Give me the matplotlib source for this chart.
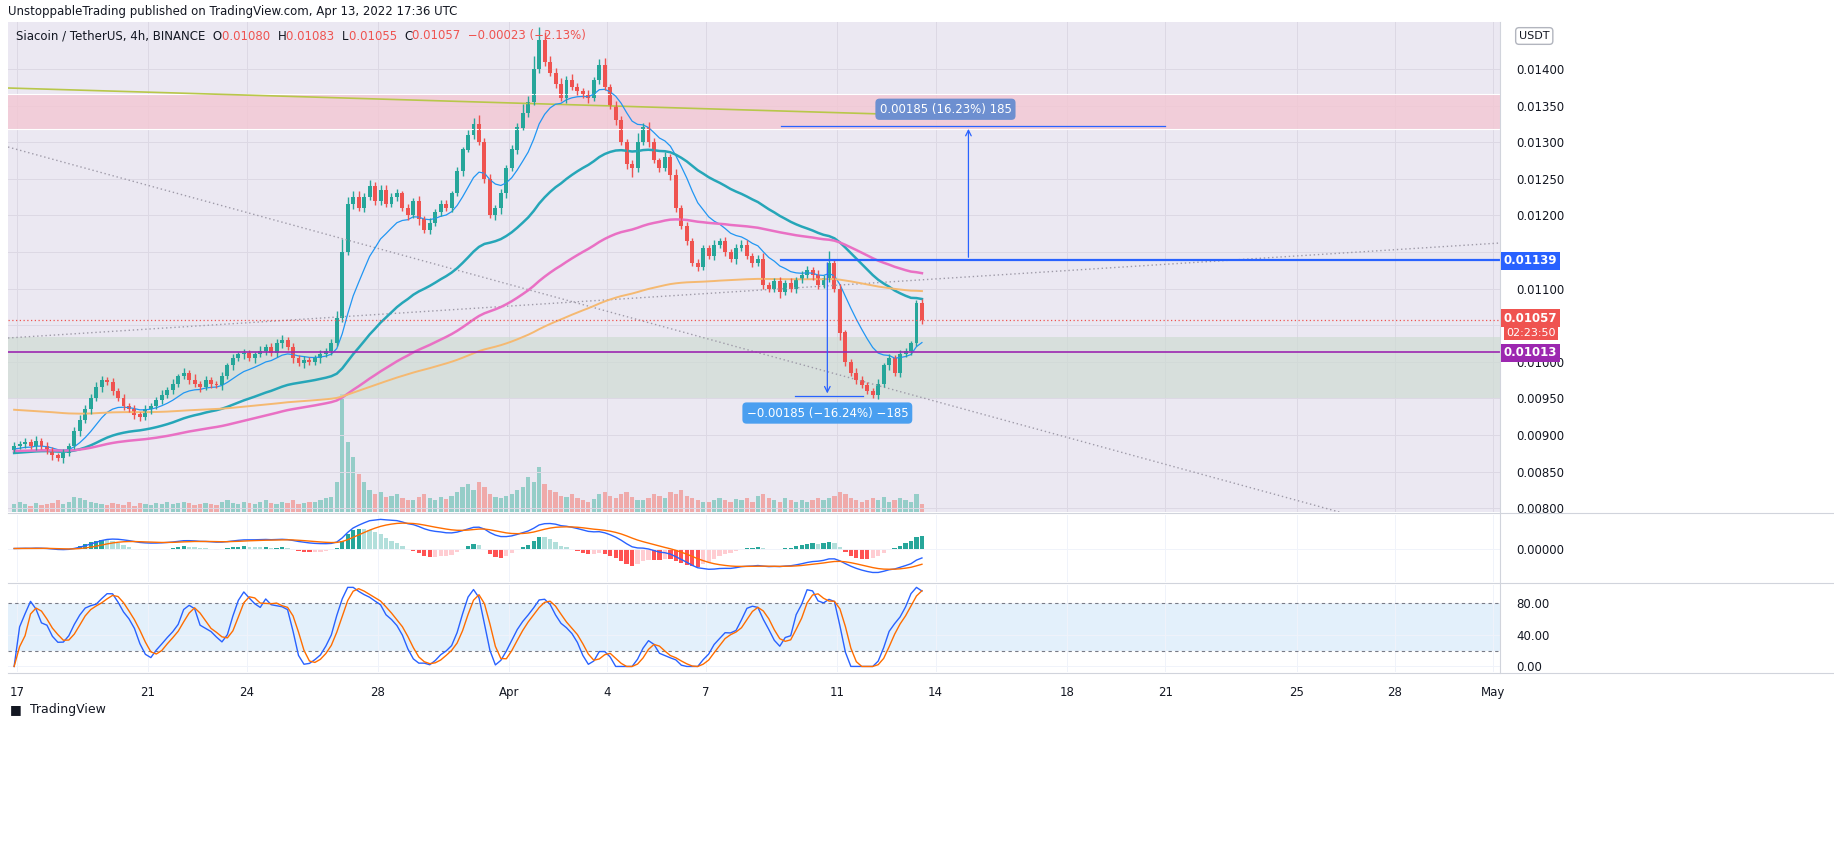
import numpy as np
import pandas as pd
import matplotlib
matplotlib.use("Agg")
import matplotlib.pyplot as plt
from matplotlib.text import Annotation

# ---- data (4h candles, Mar 16 20:00 -> Apr 13 12:00) ----
closes = [0.00885,
    0.00888, 0.00890, 0.00885, 0.00892, 0.00885, 0.00880,
    0.00872, 0.00868, 0.00875, 0.00885, 0.00905, 0.00920,
    0.00935, 0.00950, 0.00965, 0.00975, 0.00972, 0.00960,
    0.00950, 0.00940, 0.00935, 0.00928, 0.00925, 0.00935,
    0.00940, 0.00948, 0.00955, 0.00962, 0.00970, 0.00980,
    0.00985, 0.00975, 0.00970, 0.00965, 0.00975, 0.00970,
    0.00968, 0.00980, 0.00995, 0.01005, 0.01010, 0.01012,
    0.01005, 0.01010, 0.01015, 0.01020, 0.01012, 0.01025,
    0.01030, 0.01020, 0.01005, 0.00998, 0.01002, 0.01000,
    0.01005, 0.01010, 0.01015, 0.01025, 0.01060, 0.01150,
    0.01215, 0.01225, 0.01210, 0.01225, 0.01240, 0.01220,
    0.01235, 0.01215, 0.01225, 0.01230, 0.01210, 0.01200,
    0.01220, 0.01195, 0.01180, 0.01190, 0.01205, 0.01215,
    0.01210, 0.01230, 0.01260, 0.01290, 0.01310, 0.01325,
    0.01300, 0.01250, 0.01200, 0.01210, 0.01230, 0.01265,
    0.01290, 0.01320, 0.01340, 0.01355, 0.01400, 0.01440,
    0.01410, 0.01395, 0.01380, 0.01360, 0.01385, 0.01375,
    0.01370, 0.01365, 0.01360, 0.01385, 0.01405, 0.01375,
    0.01350, 0.01330, 0.01300, 0.01270, 0.01265, 0.01300,
    0.01320, 0.01300, 0.01275, 0.01265, 0.01280, 0.01255,
    0.01210, 0.01185, 0.01165, 0.01135, 0.01130, 0.01155,
    0.01145, 0.01160, 0.01165, 0.01150, 0.01140, 0.01155,
    0.01160, 0.01145, 0.01135, 0.01140, 0.01105, 0.01100,
    0.01110, 0.01095, 0.01108, 0.01100, 0.01112, 0.01118,
    0.01125, 0.01118, 0.01105, 0.01115, 0.01135, 0.01100,
    0.01040, 0.01000, 0.00985, 0.00975, 0.00968, 0.00960,
    0.00955, 0.00970, 0.00995, 0.01005, 0.00985, 0.01010,
    0.01015, 0.01025, 0.01080, 0.01057]
first_open = 0.00880
# wick lengths per candle, in units of 0.00002 (one digit per candle)
wick_up = ("3" "232323" "223234" "334323" "232323" "223232" "324232"
           "232323" "223233" "323232" "232359" "544343" "333323"
           "232323" "323234" "633232" "336499" "543434" "323245"
           "233236" "343232" "423232" "232323" "332342" "232323"
           "324283" "322332" "232323" "2223")
wick_dn = ("2" "232323" "323223" "232323" "232332" "323232" "232323"
           "232323" "232323" "323232" "232323" "232323" "322323"
           "242323" "232323" "232343" "232323" "323232" "323232"
           "232363" "232323" "323232" "232323" "223232" "242232"
           "233232" "532322" "232323" "2323")
volumes = [8,
    10, 8, 6, 9, 7, 8,  9, 12, 8, 10, 15, 14,  12, 10, 9, 8, 7, 9,
    8, 7, 10, 6, 9, 8,  7, 9, 8, 10, 8, 9,  10, 9, 7, 8, 9, 8,
    7, 10, 12, 9, 8, 10,  9, 8, 10, 12, 9, 8,  10, 9, 12, 8, 9, 10,
    10, 12, 14, 15, 30, 117,  70, 55, 38, 30, 22, 18,  20, 15, 16, 18, 14, 12,
    12, 15, 18, 14, 12, 15,  13, 16, 20, 25, 28, 22,  30, 25, 18, 15, 14, 16,
    18, 22, 25, 35, 30, 45,  28, 22, 20, 16, 15, 18,  14, 12, 10, 13, 18, 20,
    16, 14, 18, 20, 15, 12,  12, 14, 18, 16, 14, 20,  18, 22, 16, 14, 12, 10,
    10, 12, 14, 12, 10, 13,  12, 14, 10, 16, 18, 14,  12, 10, 14, 12, 10, 12,
    10, 12, 14, 12, 14, 16,  20, 18, 14, 12, 10, 12,  14, 12, 15, 10, 12, 14,
    12, 10, 18, 8]
# EMA spans and their seed values (history before the first candle)
ema_spans = [12, 45, 100, 200]
ema_seeds = [0.00880, 0.00875, 0.00878, 0.00935]
ema_colors = ["#2196f3", "#26a6b8", "#e970c4", "#f5b971"]
ema_widths = [0.9, 1.8, 1.8, 1.4]

price_ticks = [0.0080, 0.0085, 0.0090, 0.0095, 0.0100, 0.0105, 0.0110,
               0.0115, 0.0120, 0.0125, 0.0130, 0.0135, 0.0140]
date_pos = [0, 4, 7, 11, 15, 18, 21, 25, 28, 32, 35, 39, 42, 45]
date_lbl = ["17", "21", "24", "28", "Apr", "4", "7", "11", "14", "18", "21", "25", "28", "May"]

# ---- derived ----
c = np.array(closes)
o = np.concatenate([[first_open], c[:-1]])
hi = np.maximum(o, c) + np.array([int(d) for d in wick_up]) * 0.00002
lo = np.minimum(o, c) - np.array([int(d) for d in wick_dn]) * 0.00002
n = len(c)
t = (np.arange(n) - 1) / 6 + 1 / 12   # days since Mar 17 00:00
up = c >= o
GREEN, RED = "#26a69a", "#ef5350"

W, H = 1834, 848
fig = plt.figure(figsize=(W / 100, H / 100), dpi=100)
fig.patch.set_facecolor("white")

def pane(x0, y0, x1, y1):
    return fig.add_axes([x0 / W, 1 - y1 / H, (x1 - x0) / W, (y1 - y0) / H])

XL = (-0.27, 45.2)
main = pane(8, 22, 1500, 512)
main.set_xlim(*XL)
p0 = lambda y: 0.01400 - (y - 69) / 36.6 * 0.0005
main.set_ylim(p0(512), p0(22))

# volume on a twin axis (drawn underneath, carries the pane background)
vax = main.twinx()
vax.set_ylim(0, 117 / 0.24)
vcol = [("#8ccbc4" if u else "#f0a4a3") for u in up]
vax.bar(t, volumes, width=0.13, color=vcol, alpha=0.9)
vax.set_yticks([])
for s in vax.spines.values():
    s.set_visible(False)
main.set_zorder(vax.get_zorder() + 1)
main.patch.set_visible(False)
vax.patch.set_visible(True)
vax.patch.set_facecolor("#ebe8f2")

# zones
main.axhspan(0.01318, 0.01366, color="#f3c7d3", alpha=0.8, lw=0)
main.axhspan(0.00951, 0.01034, color="#cfdcd3", alpha=0.7, lw=0)
main.axhline(0.01366, color="white", lw=0.8)
main.axhline(0.01318, color="white", lw=0.8)

# trend lines
main.plot([-0.27, 40.3], [p0(147), p0(512)], ls=(0, (1, 2)), color="#9e9aa8", lw=1)
main.plot([-0.27, 45.2], [p0(338), p0(243)], ls=(0, (1, 2)), color="#9e9aa8", lw=1)
main.plot([-0.27, 27.4], [p0(88), p0(115)], color="#b8c74a", lw=1.2)

# EMAs
for span, seed, col, lw in zip(ema_spans, ema_seeds, ema_colors, ema_widths):
    ser = pd.Series(np.concatenate([[seed], c])).ewm(span=span, adjust=False).mean().values[1:]
    main.plot(t, ser, color=col, lw=lw)

# candles
main.vlines(t, lo, hi, colors=np.where(up, GREEN, RED), lw=1)
main.bar(t, np.abs(c - o) + 1e-6, bottom=np.minimum(o, c), width=0.12,
         color=np.where(up, GREEN, RED))

# horizontal levels
main.axhline(0.01013, color="#9c27b0", lw=1.2)
main.axhline(closes[-1], color=RED, lw=0.9, ls=(0, (1, 2)))
main.plot([23.3, 45.2], [0.01139, 0.01139], color="#2962ff", lw=1.6)

# measure tools
main.plot([23.3, 35.0], [0.01322, 0.01322], color="#2962ff", lw=0.9)
main.annotate("", xy=(29.0, 0.01322), xytext=(29.0, 0.01139),
              arrowprops=dict(arrowstyle="->", color="#2962ff", lw=0.9))
main.text(28.3, 0.01345, "0.00185 (16.23%) 185", color="white", fontsize=8.5,
          ha="center", va="center",
          bbox=dict(boxstyle="round,pad=0.35", fc="#6d8fd0", ec="none"))
main.plot([23.7, 25.8], [0.00953, 0.00953], color="#2962ff", lw=0.9)
main.annotate("", xy=(24.7, 0.00953), xytext=(24.7, 0.01139),
              arrowprops=dict(arrowstyle="->", color="#2962ff", lw=0.9))
main.text(24.7, 0.00930, "\u22120.00185 (\u221216.24%) \u2212185", color="white", fontsize=8.5,
          ha="center", va="center",
          bbox=dict(boxstyle="round,pad=0.35", fc="#4a9ff0", ec="none"))

main.grid(color="#dcd8e4", lw=0.7)
main.set_axisbelow(True)
main.set_xticks(date_pos)
main.set_xticklabels([])
main.tick_params(length=0)
main.yaxis.tick_right()
main.set_yticks(price_ticks)
# labels at 0.0105 / 0.0115 sit behind the price boxes
main.set_yticklabels(["" if v in (0.0105, 0.0115) else f"{v:.5f}" for v in price_ticks],
                     fontsize=8.5, color="#131722")
main.tick_params(axis="y", pad=12)
for s in main.spines.values():
    s.set_visible(False)

# right price labels
def plabel(y, txt, col):
    fig.text(1504 / W, 1 - y / H, txt, color="white", fontsize=8.5, fontweight="bold",
             va="center", ha="left", bbox=dict(boxstyle="square,pad=0.25", fc=col, ec="none"))
plabel(261, "0.01139", "#2962ff")
plabel(318, "0.01057", RED)
fig.text(1506 / W, 1 - 333 / H, "02:23:50", color="white", fontsize=8, va="center",
         bbox=dict(boxstyle="square,pad=0.2", fc=RED, ec="none"))
plabel(353, "0.01013", "#9c27b0")
fig.text(1519 / W, 1 - 36 / H, "USDT", fontsize=8, color="#131722", va="center",
         bbox=dict(boxstyle="round,pad=0.3", fc="white", ec="#b2b5be"))

# MACD
macd_ax = pane(8, 515, 1500, 582)
e12 = pd.Series(c).ewm(span=12, adjust=False).mean()
e26 = pd.Series(c).ewm(span=26, adjust=False).mean()
macd = (e12 - e26).values
sig = pd.Series(macd).ewm(span=9, adjust=False).mean().values
hist = macd - sig
hcol = []
for i, h in enumerate(hist):
    rising = i > 0 and h > hist[i - 1]
    if h >= 0:
        hcol.append("#26a69a" if rising else "#b2dfdb")
    else:
        hcol.append("#ffcdd2" if rising else "#ff5252")
macd_ax.bar(t, hist * 2, width=0.13, color=hcol)
macd_ax.plot(t, macd, color="#2962ff", lw=1)
macd_ax.plot(t, sig, color="#ff6d00", lw=1)
m = np.abs(macd).max() * 1.15
macd_ax.set_ylim(-m, m)
macd_ax.set_xlim(*XL)
macd_ax.set_xticks(date_pos)
macd_ax.set_xticklabels([])
macd_ax.yaxis.tick_right()
macd_ax.set_yticks([0])
macd_ax.set_yticklabels(["0.00000"], fontsize=8.5, color="#131722")
macd_ax.tick_params(length=0, axis="both", pad=12)
macd_ax.grid(color="#f0f3fa", lw=0.7)
for s in macd_ax.spines.values():
    s.set_visible(False)

# Stochastic RSI
st_ax = pane(8, 585, 1500, 672)
diff = np.diff(c, prepend=c[0])
gain = pd.Series(np.clip(diff, 0, None)).ewm(alpha=1 / 14, adjust=False).mean()
loss = pd.Series(np.clip(-diff, 0, None)).ewm(alpha=1 / 14, adjust=False).mean()
rsi = 100 - 100 / (1 + gain / (loss + 1e-12))
rmin = rsi.rolling(14, min_periods=1).min()
rmax = rsi.rolling(14, min_periods=1).max()
stoch = 100 * (rsi - rmin) / (rmax - rmin + 1e-12)
k = stoch.rolling(3, min_periods=1).mean()
d = k.rolling(3, min_periods=1).mean()
st_ax.axhspan(20, 80, color="#e3f0fb", lw=0)
st_ax.axhline(80, color="#787b86", ls=(0, (3, 3)), lw=0.8)
st_ax.axhline(20, color="#787b86", ls=(0, (3, 3)), lw=0.8)
st_ax.plot(t, k, color="#2962ff", lw=1)
st_ax.plot(t, d, color="#ff6d00", lw=1)
st_ax.set_ylim(-7, 103)
st_ax.set_xlim(*XL)
st_ax.yaxis.tick_right()
st_ax.set_yticks([0, 40, 80])
st_ax.set_yticklabels(["0.00", "40.00", "80.00"], fontsize=8.5, color="#131722")
st_ax.set_xticks(date_pos)
st_ax.set_xticklabels(date_lbl, fontsize=8.5, color="#131722")
st_ax.tick_params(length=0, axis="both", pad=12)
st_ax.tick_params(axis="x", pad=10)
st_ax.grid(color="#f0f3fa", lw=0.7)
for s in st_ax.spines.values():
    s.set_visible(False)

# pane separators
for y in (513, 583, 673):
    fig.add_artist(plt.Line2D([8 / W, 1834 / W], [1 - y / H, 1 - y / H], color="#d1d4dc", lw=0.8))
fig.add_artist(plt.Line2D([1500 / W, 1500 / W], [1 - 673 / H, 1 - 22 / H], color="#d1d4dc", lw=0.8))

# header
fig.text(8 / W, 1 - 11 / H, "UnstoppableTrading published on TradingView.com, Apr 13, 2022 17:36 UTC",
         fontsize=8.5, color="#131722", va="center")
parts = [("Siacoin / TetherUS, 4h, BINANCE  O", "#131722"), ("0.01080  ", RED),
         ("H", "#131722"), ("0.01083  ", RED), ("L", "#131722"), ("0.01055  ", RED),
         ("C", "#131722"), ("0.01057  \u22120.00023 (\u22122.13%)", RED)]
anchor = fig.text(16 / W, 1 - 36 / H, parts[0][0], fontsize=8.5, color=parts[0][1], va="center")
for txt, col in parts[1:]:
    # each piece placed right after the previous one
    anchor = fig.add_artist(Annotation(txt, xy=(1, 0.5), xycoords=anchor, va="center",
                                       ha="left", fontsize=8.5, color=col))
fig.text(30 / W, 1 - 710 / H, "TradingView", fontsize=9, color="#131722", va="center")
fig.text(10 / W, 1 - 710 / H, "\u25a0", fontsize=9, color="#131722", va="center")

fig.savefig("out.png", dpi=100)
